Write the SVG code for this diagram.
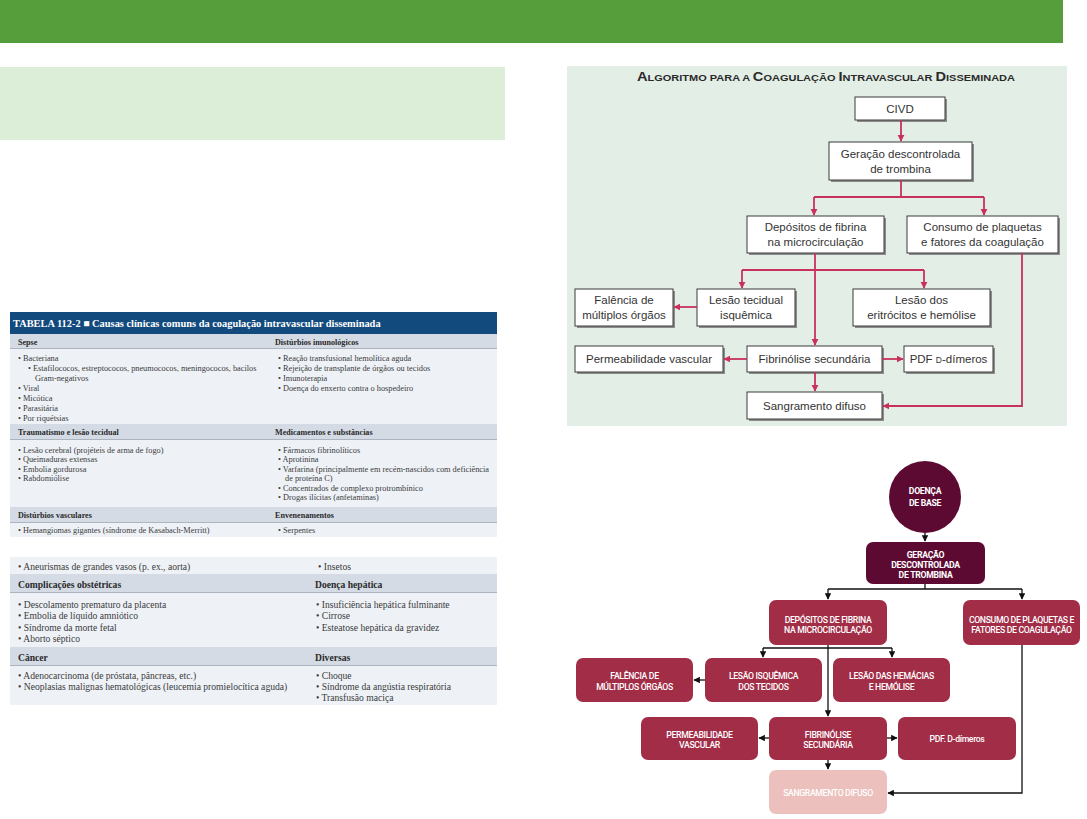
<svg xmlns="http://www.w3.org/2000/svg" width="1087" height="819" viewBox="0 0 1087 819">
<defs>
<style>
.t1{font-family:"Liberation Serif",serif;font-size:8.3px;fill:#3a3a3a}
.h1{font-family:"Liberation Serif",serif;font-size:8.1px;font-weight:bold;fill:#2a2a2a}
.t2{font-family:"Liberation Serif",serif;font-size:9.6px;fill:#3a3a3a}
.h2{font-family:"Liberation Serif",serif;font-size:9.6px;font-weight:bold;fill:#2a2a2a}
.band{fill:#d4dbe5}
.body{fill:#eef2f7}
.rule{stroke:#6f7a88;stroke-width:0.8}
.fb{fill:#ffffff;stroke:#3a3a3a;stroke-width:1}
.sh{fill:#8c8c8c}
.ft{font-family:"Liberation Sans",Arial,sans-serif;font-size:11.5px;fill:#333;text-anchor:middle}
.rc{fill:none;stroke:#c8315b;stroke-width:1.8}
.dk{fill:#5c0a32}
.md{fill:#a12d47}
.lt{fill:#ecc0bc}
.bt{font-family:Roboto,"Liberation Sans",sans-serif;font-size:8.7px;font-weight:500;letter-spacing:-0.35px;fill:#ffffff;text-anchor:middle}
.bb{font-family:Roboto,"Liberation Sans",sans-serif;font-size:8.7px;font-weight:bold;letter-spacing:-0.3px;fill:#ffffff;text-anchor:middle}
.kc{fill:none;stroke:#111;stroke-width:1.3}
</style>
<marker id="ar" viewBox="0 0 10 10" refX="9" refY="5" markerWidth="4" markerHeight="4" orient="auto" markerUnits="strokeWidth"><path d="M0,0 L10,5 L0,10 z" fill="#c8315b"/></marker>
<marker id="ak" viewBox="0 0 10 10" refX="9" refY="5" markerWidth="5" markerHeight="5" orient="auto" markerUnits="strokeWidth"><path d="M0,0 L10,5 L0,10 z" fill="#111"/></marker>
</defs>
<rect width="1087" height="819" fill="#ffffff"/>
<rect x="0" y="0" width="1063" height="43" fill="#559e3b"/>
<rect x="0" y="67" width="505" height="73" fill="#dcedd8"/>

<!-- Table part 1 -->
<g id="table1">
<rect x="10" y="312" width="487" height="22" fill="#134a7e"/>
<text x="13" y="326.5" font-family="Liberation Serif,serif" font-size="10.4" font-weight="bold" fill="#ffffff">TABELA 112-2 ■ Causas clínicas comuns da coagulação intravascular disseminada</text>
<rect class="band" x="10" y="334" width="487" height="15"/>
<line class="rule" x1="10" y1="349" x2="497" y2="349"/>
<rect class="body" x="10" y="349" width="487" height="75"/>
<text class="h1" x="18" y="344.5">Sepse</text>
<text class="h1" x="275" y="344.5">Distúrbios imunológicos</text>
<text class="t1" x="18" y="360.5">•  Bacteriana</text>
<text class="t1" x="28" y="370.5">•  Estafilococos, estreptococos, pneumococos, meningococos, bacilos</text>
<text class="t1" x="35" y="380.5">Gram-negativos</text>
<text class="t1" x="18" y="390.5">•  Viral</text>
<text class="t1" x="18" y="400.5">•  Micótica</text>
<text class="t1" x="18" y="410.5">•  Parasitária</text>
<text class="t1" x="18" y="420.5">•  Por riquétsias</text>
<text class="t1" x="278" y="360.5">•  Reação transfusional hemolítica aguda</text>
<text class="t1" x="278" y="370.5">•  Rejeição de transplante de órgãos ou tecidos</text>
<text class="t1" x="278" y="380.5">•  Imunoterapia</text>
<text class="t1" x="278" y="390.5">•  Doença do enxerto contra o hospedeiro</text>
<rect class="band" x="10" y="424" width="487" height="16"/>
<line class="rule" x1="10" y1="440" x2="497" y2="440"/>
<rect class="body" x="10" y="440" width="487" height="67"/>
<text class="h1" x="18" y="435">Traumatismo e lesão tecidual</text>
<text class="h1" x="275" y="435">Medicamentos e substâncias</text>
<text class="t1" x="18" y="452.5">•  Lesão cerebral (projéteis de arma de fogo)</text>
<text class="t1" x="18" y="462">•  Queimaduras extensas</text>
<text class="t1" x="18" y="471.5">•  Embolia gordurosa</text>
<text class="t1" x="18" y="481">•  Rabdomiólise</text>
<text class="t1" x="278" y="452.5">•  Fármacos fibrinolíticos</text>
<text class="t1" x="278" y="462">•  Aprotinina</text>
<text class="t1" x="278" y="471.5">•  Varfarina (principalmente em recém-nascidos com deficiência</text>
<text class="t1" x="285" y="481">de proteína C)</text>
<text class="t1" x="278" y="490.5">•  Concentrados de complexo protrombínico</text>
<text class="t1" x="278" y="500">•  Drogas ilícitas (anfetaminas)</text>
<rect class="band" x="10" y="507" width="487" height="16"/>
<line class="rule" x1="10" y1="523" x2="497" y2="523"/>
<rect class="body" x="10" y="523" width="487" height="14"/>
<text class="h1" x="18" y="518">Distúrbios vasculares</text>
<text class="h1" x="275" y="518">Envenenamentos</text>
<text class="t1" x="18" y="533">•  Hemangiomas gigantes (síndrome de Kasabach-Merritt)</text>
<text class="t1" x="278" y="533">•  Serpentes</text>
</g>

<!-- Table part 2 -->
<g id="table2">
<rect class="body" x="10" y="557" width="487" height="17"/>
<text class="t2" x="18" y="569.5">•  Aneurismas de grandes vasos (p. ex., aorta)</text>
<text class="t2" x="318" y="569.5">•  Insetos</text>
<rect class="band" x="10" y="574" width="487" height="19"/>
<line class="rule" x1="10" y1="593" x2="497" y2="593"/>
<rect class="body" x="10" y="593" width="487" height="54"/>
<text class="h2" x="18" y="587.5">Complicações obstétricas</text>
<text class="h2" x="315" y="587.5">Doença hepática</text>
<text class="t2" x="18" y="607.5">•  Descolamento prematuro da placenta</text>
<text class="t2" x="18" y="619">•  Embolia de líquido amniótico</text>
<text class="t2" x="18" y="630.5">•  Síndrome da morte fetal</text>
<text class="t2" x="18" y="642">•  Aborto séptico</text>
<text class="t2" x="316" y="607.5">•  Insuficiência hepática fulminante</text>
<text class="t2" x="316" y="619">•  Cirrose</text>
<text class="t2" x="316" y="630.5">•  Esteatose hepática da gravidez</text>
<rect class="band" x="10" y="647" width="487" height="19"/>
<line class="rule" x1="10" y1="666" x2="497" y2="666"/>
<rect class="body" x="10" y="666" width="487" height="39"/>
<text class="h2" x="18" y="660.5">Câncer</text>
<text class="h2" x="315" y="660.5">Diversas</text>
<text class="t2" x="18" y="679">•  Adenocarcinoma (de próstata, pâncreas, etc.)</text>
<text class="t2" x="18" y="690">•  Neoplasias malignas hematológicas (leucemia promielocítica aguda)</text>
<text class="t2" x="316" y="679">•  Choque</text>
<text class="t2" x="316" y="690">•  Síndrome da angústia respiratória</text>
<text class="t2" x="316" y="701">•  Transfusão maciça</text>
</g>

<!-- Top-right algorithm panel -->
<rect x="567" y="66" width="500" height="360" fill="#e3eee6"/>
<text x="826" y="81" font-family="Liberation Sans,Arial,sans-serif" font-weight="bold" fill="#2a2a2a" text-anchor="middle" textLength="378" lengthAdjust="spacingAndGlyphs"><tspan font-size="12">A</tspan><tspan font-size="9">LGORITMO PARA A </tspan><tspan font-size="12">C</tspan><tspan font-size="9">OAGULAÇÃO </tspan><tspan font-size="12">I</tspan><tspan font-size="9">NTRAVASCULAR </tspan><tspan font-size="12">D</tspan><tspan font-size="9">ISSEMINADA</tspan></text>

<g id="a-civd"><rect class="sh" x="857" y="99" width="90" height="23"/><rect class="fb" x="855" y="97" width="90" height="23"/><text class="ft" x="900" y="113">CIVD</text></g>
<g id="a-geracao"><rect class="sh" x="831" y="144" width="143" height="38"/><rect class="fb" x="829" y="142" width="143" height="38"/><text class="ft" x="900.5" y="158">Geração descontrolada</text><text class="ft" x="900.5" y="173">de trombina</text></g>
<g id="a-depositos"><rect class="sh" x="749" y="218" width="137" height="37"/><rect class="fb" x="747" y="216" width="137" height="37"/><text class="ft" x="815.5" y="231">Depósitos de fibrina</text><text class="ft" x="815.5" y="246">na microcirculação</text></g>
<g id="a-consumo"><rect class="sh" x="909" y="218" width="151" height="37"/><rect class="fb" x="907" y="216" width="151" height="37"/><text class="ft" x="982.5" y="231">Consumo de plaquetas</text><text class="ft" x="982.5" y="246">e fatores da coagulação</text></g>
<g id="a-falencia"><rect class="sh" x="577" y="291" width="98" height="37"/><rect class="fb" x="575" y="289" width="98" height="37"/><text class="ft" x="624" y="304">Falência de</text><text class="ft" x="624" y="319">múltiplos órgãos</text></g>
<g id="a-lesaotec"><rect class="sh" x="699" y="291" width="98" height="37"/><rect class="fb" x="697" y="289" width="98" height="37"/><text class="ft" x="746" y="304">Lesão tecidual</text><text class="ft" x="746" y="319">isquêmica</text></g>
<g id="a-lesaoeri"><rect class="sh" x="855" y="291" width="137" height="37"/><rect class="fb" x="853" y="289" width="137" height="37"/><text class="ft" x="921.5" y="304">Lesão dos</text><text class="ft" x="921.5" y="319">eritrócitos e hemólise</text></g>
<g id="a-perm"><rect class="sh" x="577" y="348" width="148" height="26"/><rect class="fb" x="575" y="346" width="148" height="26"/><text class="ft" x="649" y="363">Permeabilidade vascular</text></g>
<g id="a-fibrino"><rect class="sh" x="749" y="348" width="135" height="26"/><rect class="fb" x="747" y="346" width="135" height="26"/><text class="ft" x="814.5" y="363">Fibrinólise secundária</text></g>
<g id="a-pdf"><rect class="sh" x="906" y="348" width="89" height="26"/><rect class="fb" x="904" y="346" width="89" height="26"/><text class="ft" x="948.5" y="363">PDF <tspan font-size="8.5">D</tspan>-dímeros</text></g>
<g id="a-sangr"><rect class="sh" x="749" y="394" width="135" height="27"/><rect class="fb" x="747" y="392" width="135" height="27"/><text class="ft" x="814.5" y="410">Sangramento difuso</text></g>

<g id="a-connectors">
<path class="rc" d="M901,120 V141" marker-end="url(#ar)"/>
<path class="rc" d="M901,180 V197"/>
<path class="rc" d="M814,197 H984"/>
<path class="rc" d="M814,197 V215" marker-end="url(#ar)"/>
<path class="rc" d="M984,197 V215" marker-end="url(#ar)"/>
<path class="rc" d="M815,253 V345" marker-end="url(#ar)"/>
<path class="rc" d="M742,270 H924"/>
<path class="rc" d="M742,270 V288" marker-end="url(#ar)"/>
<path class="rc" d="M924,270 V288" marker-end="url(#ar)"/>
<path class="rc" d="M697,307 H674" marker-end="url(#ar)"/>
<path class="rc" d="M747,359 H724" marker-end="url(#ar)"/>
<path class="rc" d="M882,359 H903" marker-end="url(#ar)"/>
<path class="rc" d="M815,372 V391" marker-end="url(#ar)"/>
<path class="rc" d="M1022,253 V406 H883" marker-end="url(#ar)"/>
</g>

<!-- Bottom-right flowchart -->
<g id="b-doenca"><circle class="dk" cx="925" cy="497" r="36"/><text class="bb" x="925" y="494">DOENÇA</text><text class="bb" x="925" y="506">DE BASE</text></g>
<g id="b-geracao"><rect class="dk" x="866" y="542" width="119" height="42" rx="7"/><text class="bb" x="925.5" y="558">GERAÇÃO</text><text class="bb" x="925.5" y="568">DESCONTROLADA</text><text class="bb" x="925.5" y="578">DE TROMBINA</text></g>
<g id="b-depositos"><rect class="md" x="769" y="600" width="118" height="45" rx="7"/><text class="bt" x="828" y="622.5">DEPÓSITOS DE FIBRINA</text><text class="bt" x="828" y="632.5">NA MICROCIRCULAÇÃO</text></g>
<g id="b-consumo"><rect class="md" x="963" y="600" width="117" height="45" rx="7"/><text class="bt" x="1021.5" y="622.5">CONSUMO DE PLAQUETAS E</text><text class="bt" x="1021.5" y="632.5">FATORES DE COAGULAÇÃO</text></g>
<g id="b-falencia"><rect class="md" x="576" y="658" width="117" height="44" rx="7"/><text class="bt" x="634.5" y="678.5">FALÊNCIA DE</text><text class="bt" x="634.5" y="689.5">MÚLTIPLOS ÓRGÃOS</text></g>
<g id="b-lesaoisq"><rect class="md" x="705" y="658" width="117" height="44" rx="7"/><text class="bt" x="763.5" y="678.5">LESÃO ISQUÊMICA</text><text class="bt" x="763.5" y="689.5">DOS TECIDOS</text></g>
<g id="b-lesaohem"><rect class="md" x="833" y="658" width="117" height="44" rx="7"/><text class="bt" x="891.5" y="678.5">LESÃO DAS HEMÁCIAS</text><text class="bt" x="891.5" y="689.5">E HEMÓLISE</text></g>
<g id="b-perm"><rect class="md" x="641" y="717" width="117" height="43" rx="7"/><text class="bt" x="699.5" y="737.5">PERMEABILIDADE</text><text class="bt" x="699.5" y="747.5">VASCULAR</text></g>
<g id="b-fibrino"><rect class="md" x="769" y="717" width="118" height="43" rx="7"/><text class="bt" x="828" y="737.5">FIBRINÓLISE</text><text class="bt" x="828" y="747.5">SECUNDÁRIA</text></g>
<g id="b-pdf"><rect class="md" x="898" y="717" width="118" height="43" rx="7"/><text class="bt" x="957" y="742" letter-spacing="0">PDF. D-dímeros</text></g>
<g id="b-sangr"><rect class="lt" x="769" y="770" width="118" height="44" rx="7"/><text class="bt" x="828" y="796">SANGRAMENTO DIFUSO</text></g>

<g id="b-connectors">
<path class="kc" d="M925,533 V541" marker-end="url(#ak)"/>
<path class="kc" d="M925,584 V589 M828,589 H1022"/>
<path class="kc" d="M828,589 V599" marker-end="url(#ak)"/>
<path class="kc" d="M1022,589 V599" marker-end="url(#ak)"/>
<path class="kc" d="M828,645 V716" marker-end="url(#ak)"/>
<path class="kc" d="M763,648 H892"/>
<path class="kc" d="M763,648 V657" marker-end="url(#ak)"/>
<path class="kc" d="M892,648 V657" marker-end="url(#ak)"/>
<path class="kc" d="M705,680 H694" marker-end="url(#ak)"/>
<path class="kc" d="M769,738 H759" marker-end="url(#ak)"/>
<path class="kc" d="M887,738 H897" marker-end="url(#ak)"/>
<path class="kc" d="M828,760 V769" marker-end="url(#ak)"/>
<path class="kc" d="M1022,645 V793 H888" marker-end="url(#ak)"/>
</g>
</svg>
